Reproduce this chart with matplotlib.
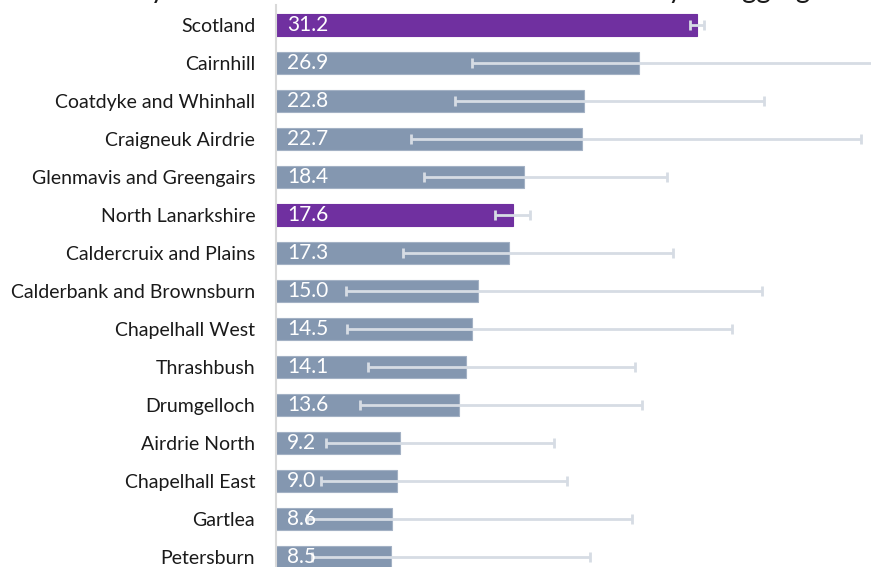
import matplotlib
matplotlib.use("Agg")
import matplotlib.pyplot as plt

plt.rcParams["font.family"] = ["Lato", "DejaVu Sans"]

PURPLE = "#7030A0"; BLUEGREY = "#8497B0"; ERR = "#D6DCE4"; AXIS = "#D9D9D9"; INK = "#1A1A1A"

areas = ["Scotland", "Cairnhill", "Coatdyke and Whinhall", "Craigneuk Airdrie",
         "Glenmavis and Greengairs", "North Lanarkshire", "Caldercruix and Plains",
         "Calderbank and Brownsburn", "Chapelhall West", "Thrashbush", "Drumgelloch",
         "Airdrie North", "Chapelhall East", "Gartlea", "Petersburn"]
values = [31.2, 26.9, 22.8, 22.7, 18.4, 17.6, 17.3, 15.0, 14.5, 14.1, 13.6, 9.2, 9.0, 8.6, 8.5]
lower = [30.7, 14.5, 13.3, 10.0, 11.0, 16.2, 9.4, 5.2, 5.3, 6.8, 6.2, 3.7, 3.3, 2.3, 2.7]
upper = [31.7, 46.0, 36.2, 43.4, 29.0, 18.8, 29.4, 36.0, 33.8, 26.6, 27.1, 20.6, 21.6, 26.4, 23.3]
highlight = ["Scotland", "North Lanarkshire"]

W, H = 871, 567
fig = plt.figure(figsize=(W / 100, H / 100), dpi=100)
fig.patch.set_facecolor("white")
# axes spills past bottom and right edges, like the cropped source
ax = fig.add_axes([276 / W, (H - 576) / H, 607 / W, 571 / H])

ypos = list(range(len(areas)))
colors = [PURPLE if a in highlight else BLUEGREY for a in areas]
edges = [PURPLE if a in highlight else "#A3B1C4" for a in areas]
ax.barh(ypos, values, height=0.6, color=colors, edgecolor=edges, linewidth=0.8, zorder=2)
xerr = [[v - lo for v, lo in zip(values, lower)], [hi - v for v, hi in zip(values, upper)]]
ax.errorbar(values, ypos, xerr=xerr, fmt="none", ecolor=ERR, elinewidth=2, capsize=3.6, capthick=2, zorder=3)

for y, v in zip(ypos, values):
    ax.annotate(f"{v:.1f}", (0, y), xytext=(8, 0), textcoords="offset points",
                color="white", fontsize=15, va="center", ha="left", zorder=4)

ax.set_xlim(0, 45)
ax.set_ylim(14.5, -0.526)
ax.set_yticks(ypos)
ax.set_yticklabels(areas, fontsize=14, color=INK)
ax.tick_params(axis="y", length=0, pad=15)
ax.set_xticks([])
for s in ["top", "right", "bottom"]:
    ax.spines[s].set_visible(False)
ax.spines["left"].set_color(AXIS)
ax.spines["left"].set_linewidth(1.5)

# title sits above the crop; only its descenders show
fig.text(72 / W, 1 + 2 / H, "Rate by intermediate zone in the Airdrie area - 3 year aggregates (2018-20)",
         ha="left", va="baseline", fontsize=20, color=INK)

fig.savefig("out.png", dpi=100, facecolor="white")
